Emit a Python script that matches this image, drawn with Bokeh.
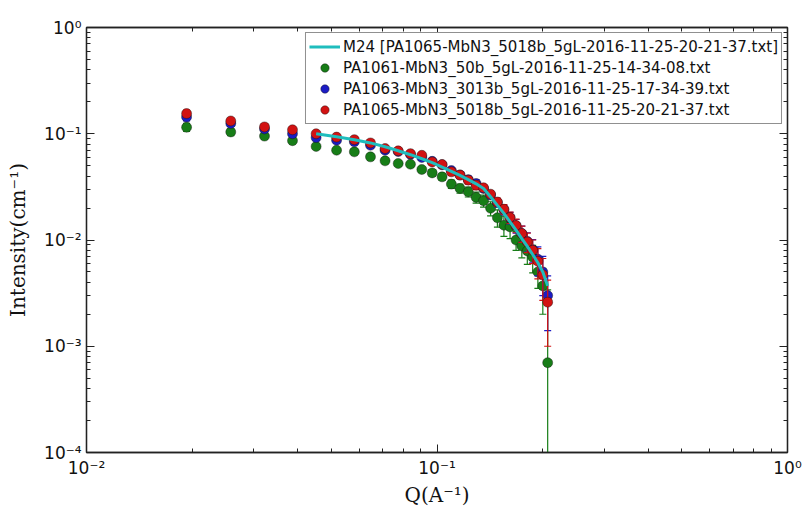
from bokeh.plotting import figure
from bokeh.models import (FixedTicker, LogAxis, Legend, LegendItem, ColumnDataSource,
                          CustomJSTickFormatter)
from bokeh.embed import file_html
from bokeh.resources import INLINE

# Scattering vector Q (1/A)
q = [0.0193, 0.0258, 0.0322, 0.0387, 0.0452, 0.0517, 0.0581, 0.0646, 0.0711, 0.0775,
     0.0840, 0.0905, 0.0969, 0.1034, 0.1099, 0.1163, 0.1228, 0.1293, 0.1358, 0.1422,
     0.1487, 0.1552, 0.1616, 0.1681, 0.1746, 0.1810, 0.1875, 0.1940, 0.2004, 0.2069]

# PA1061 (green)
i_1061 = [0.115, 0.104, 0.095, 0.086, 0.076, 0.070, 0.0676, 0.0606, 0.0556, 0.0525,
          0.0517, 0.0461, 0.0428, 0.0393, 0.0336, 0.0306, 0.0284, 0.0252, 0.0234, 0.0199,
          0.0162, 0.0138, 0.0133, 0.0100, 0.0088, 0.0079, 0.0069, 0.0050, 0.0037, 0.0007]
e_1061 = [0.010, 0.008, 0.005, 0.004, 0.003, 0.003, 0.003, 0.003, 0.003, 0.003,
          0.003, 0.003, 0.003, 0.003, 0.003, 0.003, 0.003, 0.003, 0.003, 0.003,
          0.003, 0.003, 0.003, 0.002, 0.002, 0.002, 0.002, 0.0015, 0.0017, 0.0027]

# PA1063 (blue)
i_1063 = [0.144, 0.125, 0.111, 0.100, 0.092, 0.087, 0.084, 0.078, 0.070, 0.068,
          0.064, 0.0598, 0.055, 0.051, 0.045, 0.041, 0.037, 0.034, 0.0305, 0.0265,
          0.0225, 0.0192, 0.0162, 0.0136, 0.0115, 0.0097, 0.0081, 0.0066, 0.0050, 0.0030]
e_1063 = [0.012, 0.008, 0.005, 0.004, 0.003, 0.003, 0.003, 0.003, 0.003, 0.003,
          0.003, 0.003, 0.003, 0.003, 0.003, 0.003, 0.003, 0.003, 0.002, 0.002,
          0.002, 0.002, 0.002, 0.002, 0.002, 0.002, 0.002, 0.002, 0.002, 0.0016]

# PA1065 (red)
i_1065 = [0.155, 0.132, 0.116, 0.109, 0.100, 0.093, 0.088, 0.082, 0.0726, 0.069,
          0.065, 0.0627, 0.0543, 0.0514, 0.0438, 0.0408, 0.0366, 0.0328, 0.031, 0.027,
          0.0228, 0.0195, 0.0163, 0.0137, 0.0115, 0.0096, 0.0080, 0.0063, 0.0047, 0.0026]
e_1065 = [0.012, 0.008, 0.005, 0.004, 0.003, 0.003, 0.003, 0.003, 0.003, 0.003,
          0.003, 0.003, 0.003, 0.003, 0.003, 0.003, 0.003, 0.003, 0.002, 0.002,
          0.002, 0.002, 0.002, 0.002, 0.002, 0.002, 0.002, 0.002, 0.002, 0.0016]

# M24 model fit to PA1065
model_q = q[4:]
model_i = [0.1002, 0.0937, 0.0878, 0.082, 0.0755, 0.0692, 0.0635, 0.0582, 0.0534, 0.0485,
           0.0442, 0.0405, 0.0370, 0.0338, 0.0305, 0.0255, 0.0212, 0.0178, 0.0148, 0.0124,
           0.0103, 0.0087, 0.0073, 0.0061, 0.0050, 0.0037]

x_major = [0.01, 0.1, 1.0]
y_major = [1e-4, 1e-3, 1e-2, 1e-1, 1.0]

labels = {
    "model": "M24 [PA1065-MbN3_5018b_5gL-2016-11-25-20-21-37.txt]",
    "1061": "PA1061-MbN3_50b_5gL-2016-11-25-14-34-08.txt",
    "1063": "PA1063-MbN3_3013b_5gL-2016-11-25-17-34-39.txt",
    "1065": "PA1065-MbN3_5018b_5gL-2016-11-25-20-21-37.txt",
}

Y_MIN, Y_MAX = 1e-4, 1.0


def minor_ticks(majors):
    out = []
    for m in majors[:-1]:
        out.extend(m * k for k in range(2, 10))
    return out


# "10" followed by a superscript exponent
pow_fmt = CustomJSTickFormatter(code="""
    const sup = {'-': '\u207b', '0': '\u2070', '1': '\u00b9', '2': '\u00b2', '3': '\u00b3',
                 '4': '\u2074', '5': '\u2075', '6': '\u2076', '7': '\u2077', '8': '\u2078',
                 '9': '\u2079'};
    const e = String(Math.round(Math.log10(tick)));
    let s = '10';
    for (const c of e) { s += sup[c]; }
    return s;
""")
blank_fmt = CustomJSTickFormatter(code="return ' ';")

p = figure(width=803, height=509, x_axis_type="log", y_axis_type="log",
           x_range=(0.01, 1.0), y_range=(Y_MIN, Y_MAX),
           output_backend="svg", toolbar_location=None,
           min_border_left=86, min_border_right=16,
           min_border_top=27, min_border_bottom=56)
p.background_fill_color = "white"
p.border_fill_color = "white"
p.outline_line_color = "#222222"
p.outline_line_width = 1.3
p.xgrid.visible = False
p.ygrid.visible = False

xt = FixedTicker(ticks=x_major, minor_ticks=minor_ticks(x_major))
yt = FixedTicker(ticks=y_major, minor_ticks=minor_ticks(y_major))


def style_axis(ax, labels_on):
    ax.major_tick_in = 8
    ax.major_tick_out = 0
    ax.minor_tick_in = 4
    ax.minor_tick_out = 0
    ax.axis_line_color = "#222222"
    ax.axis_line_width = 1.3
    ax.major_tick_line_color = "#222222"
    ax.minor_tick_line_color = "#222222"
    ax.major_label_text_font = "DejaVu Sans"
    ax.major_label_text_font_size = "17px" if labels_on else "2px"
    ax.major_label_text_color = "#111111"
    ax.formatter = pow_fmt if labels_on else blank_fmt


p.xaxis.ticker = xt
p.yaxis.ticker = yt
style_axis(p.xaxis[0], True)
style_axis(p.yaxis[0], True)
p.xaxis.major_label_standoff = 5
p.yaxis.major_label_standoff = 5

p.xaxis.axis_label = "Q(A⁻¹)"
p.yaxis.axis_label = "Intensity(cm⁻¹)"
for ax in (p.xaxis[0], p.yaxis[0]):
    ax.axis_label_text_font = "DejaVu Serif"
    ax.axis_label_text_font_style = "normal"
    ax.axis_label_text_font_size = "20px"
    ax.axis_label_text_color = "#111111"
p.xaxis.axis_label_standoff = 2
p.yaxis.axis_label_standoff = 11

top_ax = LogAxis(ticker=xt)
right_ax = LogAxis(ticker=yt)
style_axis(top_ax, False)
style_axis(right_ax, False)
top_ax.major_label_standoff = 0
right_ax.major_label_standoff = 0
p.add_layout(top_ax, "above")
p.add_layout(right_ax, "right")

series = [
    ("1061", i_1061, e_1061, "#177d17"),
    ("1063", i_1063, e_1063, "#1c1cc4"),
    ("1065", i_1065, e_1065, "#d21212"),
]

marker_renderers = {}
for key, vals, errs, color in series:
    lower = [max(v - e, Y_MIN * 0.01) for v, e in zip(vals, errs)]
    upper = [v + e for v, e in zip(vals, errs)]
    src = ColumnDataSource(dict(q=q, i=vals, lo=lower, hi=upper))
    p.segment(x0="q", y0="lo", x1="q", y1="hi", source=src,
              line_color=color, line_width=1.2)
    cap_q = [x for x, y in zip(q, lower) if y > Y_MIN]
    cap_y = [y for y in lower if y > Y_MIN]
    p.scatter(cap_q, cap_y, marker="dash", size=7, line_color=color, line_width=1.2)
    p.scatter(q, upper, marker="dash", size=7, line_color=color, line_width=1.2)
    r = p.scatter(x="q", y="i", source=src, size=10, fill_color=color,
                  line_color="#101010", line_width=0.6, line_alpha=0.7)
    marker_renderers[key] = r

model_r = p.line(model_q, model_i, line_color="#1fbdbd", line_width=3)

legend = Legend(items=[
    LegendItem(label=labels["model"], renderers=[model_r]),
    LegendItem(label=labels["1061"], renderers=[marker_renderers["1061"]]),
    LegendItem(label=labels["1063"], renderers=[marker_renderers["1063"]]),
    LegendItem(label=labels["1065"], renderers=[marker_renderers["1065"]]),
])
legend.location = "top_right"
legend.margin = 5
legend.padding = 3
legend.spacing = 0
legend.label_text_font = "DejaVu Sans"
legend.label_text_font_size = "15px"
legend.label_text_color = "#111111"
legend.label_height = 21
legend.label_standoff = 3
legend.glyph_width = 31
legend.glyph_height = 21
legend.border_line_color = "#222222"
legend.border_line_width = 1.3
legend.background_fill_color = "white"
legend.background_fill_alpha = 1.0
p.add_layout(legend, "center")

open("out.html", "w").write(file_html(p, INLINE))
